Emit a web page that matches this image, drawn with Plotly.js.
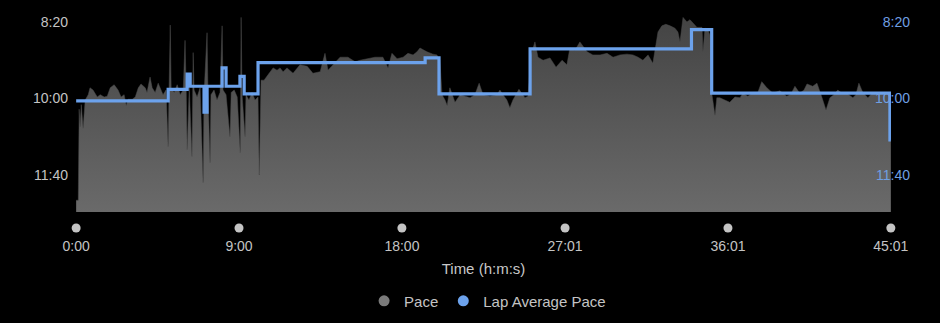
<!DOCTYPE html>
<html>
<head>
<meta charset="utf-8">
<script src="https://cdn.plot.ly/plotly-3.0.1.min.js"></script>
<style>html,body{margin:0;padding:0;background:#000;}#chart{width:940px;height:323px;}</style>
</head>
<body>
<div id="chart"></div>
<script>
// Time axis (seconds)
const totalSec = 2701;
const xTickVals = [0, 540, 1080, 1621, 2161, 2701];
const xTickLabels = ['0:00', '9:00', '18:00', '27:01', '36:01', '45:01'];

// Pace axis (seconds per unit)
const yTickVals = [500, 600, 700];
const yTickLabels = ['8:20', '10:00', '11:40'];

// Pace samples: time (s) and pace (s)
const paceTime = [0,7,10,13,17,23,30,40,46,56,70,80,93,103,113,126,139,149,159,166,172,186,196,206,215,229,235,245,252,262,272,282,288,298,
305,308,312,315,325,335,345,355,361,365,368,375,384,388,391,401,411,421,424,434,437,444,447,457,467,477,484,487,497,510,514,524,534,544,547,550,560,563,573,583,593,603,607,613,623,636,
653,666,676,686,699,719,742,766,785,809,825,835,852,875,901,925,941,964,991,1017,1034,1047,1064,1084,1100,1117,1130,1140,1163,1183,1196,1206,
1213,1223,1230,1239,1249,1256,1273,1289,1306,1322,1336,1349,1372,1395,1405,1415,1428,1438,1448,1468,1488,1498,1508,1521,1531,1548,1571,1591,1611,1627,1637,1654,1670,1694,1713,1737,1760,1780,1803,1826,1846,1863,1879,1896,1912,1922,1929,1942,1955,1969,1985,1995,2002,2012,2025,2035,2048,2058,2075,2078,2085,2094,2101,2108,2118,2124,2134,2151,2167,2184,2201,
2210,2227,2244,2260,2273,2290,2310,2333,2356,2370,2383,2399,2413,2423,2442,2456,2472,2486,2499,2512,2525,2542,2555,2575,2585,2595,2608,2625,2641,2665,2681,2698,2701];
const paceSec = [733,733,614,637,608,639,602,595,586,589,598,595,598,597,586,582,589,598,595,609,601,601,598,586,581,586,592,572,586,592,580,589,595,589,
663,589,504,586,592,582,595,589,524,592,667,586,676,540,589,598,586,710,595,514,592,684,595,589,602,592,505,589,595,650,592,589,598,671,494,595,650,595,602,592,602,598,700,576,576,569,
560,563,560,565,560,567,556,558,567,565,541,563,556,546,546,552,550,548,546,546,560,541,548,546,541,543,539,534,539,542,543,550,
595,602,609,586,598,605,595,597,599,595,580,595,597,595,589,595,602,612,602,588,599,597,543,526,546,550,547,559,550,556,534,537,526,539,543,543,541,546,543,542,543,546,550,543,554,530,513,505,503,505,508,513,526,494,500,497,503,507,507,539,508,510,517,595,622,599,599,602,605,598,599,
593,597,592,592,578,586,593,590,597,594,584,593,589,581,584,580,598,615,599,595,589,594,593,599,595,580,592,599,592,593,592,595,595];

// Lap average pace: lap start times (s) and lap paces (s)
const lapStartSec = [0,305,368,378,424,434,484,497,543,557,603,1157,1203,1505,2040,2107,2698];
const lapPaceSec = [603,588,568,584,618,584,560,584,571,594,553,547,594,535,510,593,654];

const yRange = [748.4, 484.3];

const lapX = lapStartSec.concat([totalSec]);
const lapY = lapPaceSec.concat([lapPaceSec[lapPaceSec.length - 1]]);

const traces = [
  { x: [0, totalSec], y: [yRange[0], yRange[0]], mode: 'lines', line: {width: 0, color: 'rgba(0,0,0,0)'},
    showlegend: false, hoverinfo: 'skip', xaxis: 'x', yaxis: 'y' },
  { x: paceTime, y: paceSec, mode: 'lines', name: 'Pace', fill: 'tonexty',
    line: {width: 0.5, color: '#4a4a4a'},
    fillcolor: '#575757',
    fillgradient: {type: 'vertical', start: 484, stop: 748, colorscale: [[0, '#424242'], [1, '#6a6a6a']]},
    showlegend: false, xaxis: 'x', yaxis: 'y' },
  { x: lapX, y: lapY, mode: 'lines', name: 'Lap Average Pace', line: {shape: 'hv', width: 3.2, color: '#6ca2ec'},
    showlegend: false, xaxis: 'x', yaxis: 'y2' },
  { x: xTickVals, y: xTickVals.map(() => 0.5), mode: 'markers', marker: {size: 9, color: '#c4c4c4'},
    cliponaxis: false, showlegend: false, hoverinfo: 'skip', xaxis: 'x', yaxis: 'y3' },
  { x: [null], y: [null], mode: 'markers', name: 'Pace', marker: {size: 11, color: '#7a7a7a'}, xaxis: 'x', yaxis: 'y' },
  { x: [null], y: [null], mode: 'markers', name: 'Lap Average Pace', marker: {size: 11, color: '#6ca2ec'}, xaxis: 'x', yaxis: 'y' }
];

const font = 'Liberation Sans, Arial, sans-serif';
const layout = {
  width: 940, height: 323,
  paper_bgcolor: '#000', plot_bgcolor: '#000',
  margin: {l: 76, r: 49, t: 10, b: 88},
  font: {family: font, color: '#c4c4c4', size: 14},
  showlegend: true,
  legend: {orientation: 'h', traceorder: 'normal', x: 0.505, xanchor: 'center', yref: 'container', y: 0.068, yanchor: 'middle',
           font: {size: 15, color: '#c4c4c4', family: font}, bgcolor: 'rgba(0,0,0,0)'},
  xaxis: {
    range: [-0.5, totalSec + 0.5], anchor: 'y3', tickmode: 'array', tickvals: xTickVals, ticktext: xTickLabels,
    showgrid: false, zeroline: false, showline: false, ticks: '', ticklabelstandoff: 1, ticklabeloverflow: 'allow',
    tickfont: {size: 14, color: '#c4c4c4'},
    title: {text: 'Time (h:m:s)', font: {size: 15, color: '#c8c8c8'}, standoff: 10}
  },
  yaxis: {
    domain: [0.1022, 1], range: yRange, tickmode: 'array', tickvals: yTickVals, ticktext: yTickLabels,
    showgrid: false, zeroline: false, showline: false, ticks: '', ticklabelstandoff: 7,
    tickfont: {size: 14, color: '#c4c4c4'}
  },
  yaxis2: {
    domain: [0.1022, 1], range: yRange, overlaying: 'y', side: 'right', anchor: 'x',
    tickmode: 'array', tickvals: yTickVals, ticktext: yTickLabels,
    showgrid: false, zeroline: false, showline: false, ticks: '', ticklabelposition: 'inside', ticklabelstandoff: -22,
    ticklabeloverflow: 'allow',
    tickfont: {size: 14, color: '#6f9fe2'}
  },
  yaxis3: {
    domain: [0, 0.062], range: [0, 1], showticklabels: false, showgrid: false, zeroline: false, showline: false, fixedrange: true
  }
};

Plotly.newPlot('chart', traces, layout, {displayModeBar: false, staticPlot: true});
</script>
</body>
</html>
